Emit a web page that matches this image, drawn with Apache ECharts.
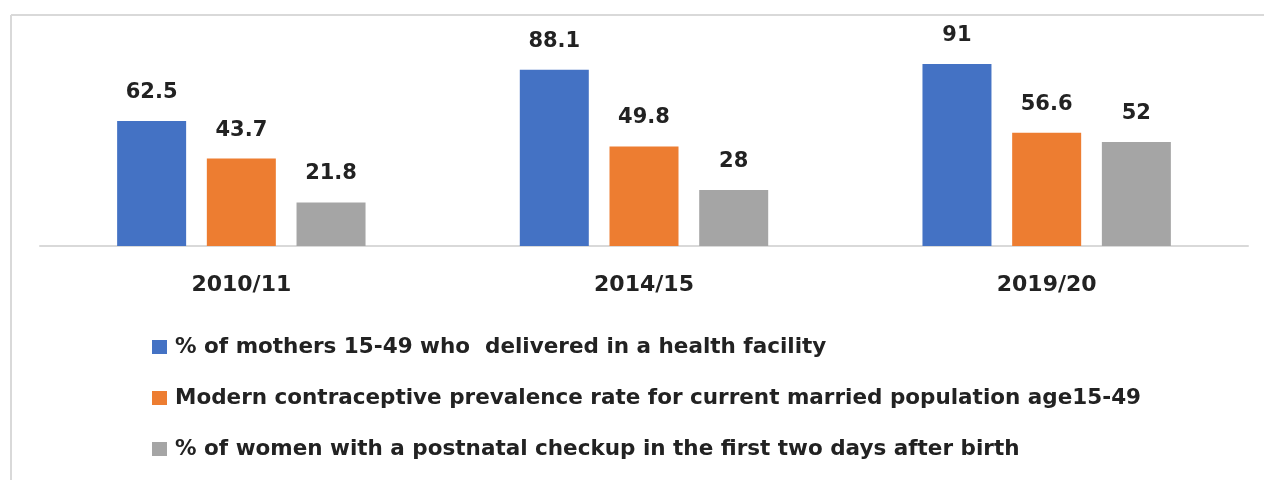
<!DOCTYPE html>
<html>
<head>
<meta charset="utf-8">
<script src="https://cdn.jsdelivr.net/npm/echarts@6/dist/echarts.min.js"></script>
<style>
    html, body { margin: 0; padding: 0; background: #fff; }
    #chart { width: 1264px; height: 480px; }
</style>
</head>
<body>
<div id="chart"></div>
<script>
// survey rounds
const years = ['2010/11', '2014/15', '2019/20'];
// series names
const seriesNames = [
    '% of mothers 15-49 who  delivered in a health facility',
    'Modern contraceptive prevalence rate for current married population age15-49',
    '% of women with a postnatal checkup in the first two days after birth'
];
const facilityDelivery = [62.5, 88.1, 91];
const contraceptiveRate = [43.7, 49.8, 56.6];
const postnatalCheckup = [21.8, 28, 52];
const colors = ['#4472c4', '#ed7d31', '#a5a5a5'];

const font = 'DejaVu Sans';
const chart = echarts.init(document.getElementById('chart'));

const makeSeries = (name, data, color) => ({
    name: name,
    type: 'bar',
    data: data,
    barWidth: 69,
    barGap: '30%',
    itemStyle: { color: color },
    label: {
        show: true,
        position: 'top',
        distance: 18,
        color: '#222',
        fontFamily: font,
        fontWeight: 'bold',
        fontSize: 21
    }
});

chart.setOption({
    animation: false,
    textStyle: { fontFamily: font },
    grid: { left: 40, right: 16, top: 46, bottom: 234 },
    legend: {
        orient: 'vertical',
        left: 152,
        top: 336,
        padding: 0,
        itemWidth: 15,
        itemHeight: 14,
        itemGap: 29,
        icon: 'rect',
        textStyle: { fontFamily: font, fontWeight: 'bold', fontSize: 21.5, color: '#222', padding: [0, 0, 0, 3] },
        data: seriesNames
    },
    xAxis: {
        type: 'category',
        data: years,
        axisLine: { lineStyle: { color: '#d9d9d9', width: 2 } },
        axisTick: { show: false },
        axisLabel: { margin: 28, color: '#222', fontFamily: font, fontWeight: 'bold', fontSize: 22 }
    },
    yAxis: {
        type: 'value',
        min: 0,
        max: 100,
        show: false
    },
    // frame around the chart area
    graphic: [
        { type: 'line', shape: { x1: 11, y1: 15, x2: 1264, y2: 15 }, style: { stroke: '#d9d9d9', lineWidth: 2 } },
        { type: 'line', shape: { x1: 11, y1: 15, x2: 11, y2: 480 }, style: { stroke: '#d9d9d9', lineWidth: 2 } }
    ],
    series: [
        makeSeries(seriesNames[0], facilityDelivery, colors[0]),
        makeSeries(seriesNames[1], contraceptiveRate, colors[1]),
        makeSeries(seriesNames[2], postnatalCheckup, colors[2])
    ]
});
</script>
</body>
</html>
